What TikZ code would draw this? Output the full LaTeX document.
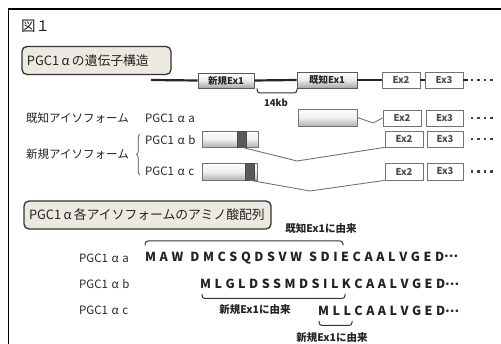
\documentclass[tikz,border=0pt]{standalone}
\usepackage{fontspec}
\setmainfont{Noto Sans CJK JP}
\usetikzlibrary{decorations.pathreplacing}
\definecolor{boxfill}{HTML}{ECE9E0}
\definecolor{txt}{HTML}{222222}
\newcommand{\alp}{\makebox[1.25em]{α}}
\newcommand{\alb}{\makebox[1em]{α}}
\newcommand{\dts}{\raisebox{0.28em}{…}}
\begin{document}
\begin{tikzpicture}[x=1pt,y=-1pt,
  every node/.style={inner sep=0pt, text=txt},
  titlebox/.style={draw=black!80, line width=1.3pt, fill=boxfill, rounded corners=5pt,
     minimum height=28, inner xsep=5pt, align=left, font=\fontsize{12.8}{15}\selectfont},
  exonbold/.style={draw=black!65, line width=0.8pt, top color=white, bottom color=black!35,
     middle color=black!8, font=\fontsize{9.5}{10}\selectfont\bfseries, text=black!85},
  exonwhite/.style={draw=black!55, line width=0.8pt, fill=white,
     font=\fontsize{9.5}{10}\selectfont\bfseries, text=black!70, minimum width=38, minimum height=16},
  isobox/.style={draw=black!55, line width=0.8pt, top color=white, bottom color=black!30,
     middle color=black!6},
  bandbox/.style={fill=black!65, draw=black!70, line width=0.4pt},
  gene/.style={line width=2.2pt, black!85},
  iso/.style={line width=0.9pt, black!55},
  brc/.style={line width=1pt, black!80, rounded corners=3pt},
  lbl/.style={font=\fontsize{11.5}{13}\selectfont, anchor=west},
  plbl/.style={font=\fontsize{11.5}{13}\selectfont, anchor=west, text=black!85},
  seq/.style={font=\fontsize{12.5}{15}\selectfont\bfseries, anchor=west},
  blbl/.style={font=\fontsize{10.5}{12}\selectfont\bfseries, text=black!85},
  dsq/.style={fill=black!75}]
\useasboundingbox (0,0) rectangle (501,344);
% frame
\draw[line width=1.5pt, black] (8.5,344) -- (8.5,9) -- (501,9);
% title
\node[anchor=west, font=\fontsize{14.5}{16}\selectfont] (fig) at (21,26) {図１};
\node[titlebox, text width=139] (t1) at (96.5,60.5) {PGC1\alb の遺伝子構造};
% gene structure
\coordinate (gstart) at (151,80);
\node[exonbold, minimum width=56, minimum height=15] (nex1) at (226,80.5) {新規Ex1};
\node[exonbold, minimum width=60, minimum height=16] (kex1) at (327,80) {既知Ex1};
\node[exonwhite] (ex2t) at (401,80) {Ex2};
\node[exonwhite] (ex3t) at (444,80) {Ex3};
\coordinate (gend) at (468,80);
\draw[gene] (gstart) -- (nex1.west);
\draw[gene] (nex1.east) -- (kex1.west);
\draw[gene] (kex1.east) -- (ex2t.west);
\draw[gene] (ex2t.east) -- (ex3t.west);
\draw[gene] (ex3t.east) -- (gend);
\draw[brc] (257,88.5) -- (257,93) -- (297,93) -- (297,88.5);
\node[blbl, font=\fontsize{9.5}{10}\selectfont\bfseries] (kb) at (276,103) {14kb};
% isoform a
\node[lbl] (known) at (26,118) {既知アイソフォーム};
\node[plbl] (pa) at (145,118) {PGC1\alp a};
\node[isobox, minimum width=59, minimum height=17] (boxa) at (327.5,117.5) {};
\node[exonwhite] (ex2a) at (402,118) {Ex2};
\node[exonwhite, minimum width=37] (ex3a) at (444.5,118) {Ex3};
\draw[iso] (boxa.east) -- (373,123) -- (ex2a.west);
% isoform b
\node[lbl] (novel) at (26,154) {新規アイソフォーム};
\draw[line width=0.7pt, black!70, decorate, decoration={brace, amplitude=3.5pt}] (140,175) -- (140,134);
\node[plbl] (pb) at (145,140) {PGC1\alp b};
\node[isobox, minimum width=56, minimum height=16] (boxb) at (230,139) {};
\node[bandbox, minimum width=9, minimum height=16] (bandb) at (241.5,139) {};
\node[exonwhite] (ex2b) at (404,139) {Ex2};
\node[exonwhite, minimum width=36] (ex3b) at (445,139) {Ex3};
\draw[iso] (bandb.south) -- (297,161) -- (ex2b.south west);
% isoform c
\node[plbl] (pc) at (145,171) {PGC1\alp c};
\node[isobox, minimum width=55, minimum height=17] (boxc) at (229.5,171.5) {};
\node[bandbox, minimum width=9, minimum height=17] (bandc) at (249.5,171.5) {};
\node[exonwhite, minimum height=17] (ex2c) at (404,171.5) {Ex2};
\node[exonwhite, minimum width=36, minimum height=17] (ex3c) at (445,171.5) {Ex3};
\draw[iso] (bandc.south) -- (310,191) -- (ex2c.south west);
% dots
\foreach \yy in {80,118,139,171.5}{
  \foreach \xx in {472,478.5,485,491.5}{
    \fill[dsq] (\xx-1.3,\yy-1.3) rectangle (\xx+1.3,\yy+1.3);
  }
}
% amino acid section
\node[titlebox, text width=237] (t2) at (147.5,215) {PGC1\alb 各アイソフォームのアミノ酸配列};
\node[plbl] (sa) at (79,258) {PGC1\alp a};
\node[plbl] (sb) at (79,284) {PGC1\alp b};
\node[plbl] (sc) at (79,310) {PGC1\alp c};
\node[seq] (qa) at (145,258) {\makebox[313pt][s]{M\hfill A\hfill W\hfill\hfill D\hfill M\hfill C\hfill S\hfill Q\hfill D\hfill S\hfill V\hfill W\hfill\hfill S\hfill D\hfill I\hfill E\hfill C\hfill A\hfill A\hfill L\hfill V\hfill G\hfill E\hfill D\dts}};
\node[seq] (qb) at (200,284) {\makebox[259pt][s]{M\hfill L\hfill G\hfill L\hfill D\hfill S\hfill S\hfill M\hfill D\hfill S\hfill I\hfill L\hfill K\hfill C\hfill A\hfill A\hfill L\hfill V\hfill G\hfill E\hfill D\dts}};
\node[seq] (qc) at (318,311) {\makebox[141pt][s]{M\hfill L\hfill L\hfill C\hfill A\hfill A\hfill L\hfill V\hfill G\hfill E\hfill D\dts}};
% braces
\draw[brc] (145,245.5) -- (145,241) -- (343,241) -- (343,245.5);
\node[blbl] (la) at (321,229) {既知Ex1に由来};
\draw[brc] (202,294) -- (202,298.5) -- (345,298.5) -- (345,294);
\node[blbl] (lb) at (255,310) {新規Ex1に由来};
\draw[brc] (319,321) -- (319,325.5) -- (352,325.5) -- (352,321);
\node[blbl] (lc) at (332,338) {新規Ex1に由来};
\end{tikzpicture}
\end{document}
